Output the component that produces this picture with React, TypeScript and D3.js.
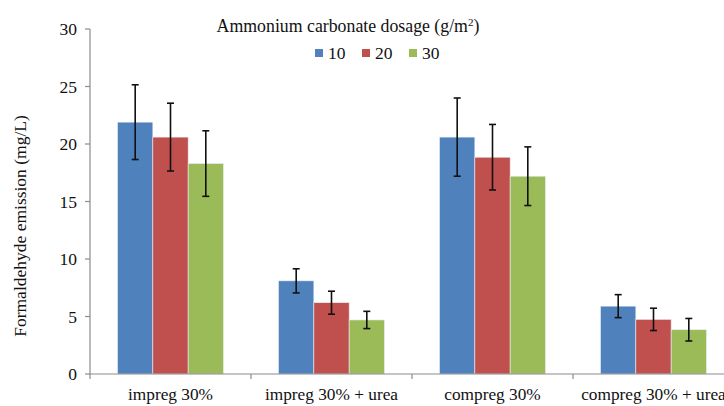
import React from 'react';
import * as d3 from 'd3';

// chart values
const categories = ['impreg 30%', 'impreg 30% + urea', 'compreg 30%', 'compreg 30% + urea'];
const seriesNames = ['10', '20', '30'];
const values10 = [21.9, 8.1, 20.6, 5.9];
const values20 = [20.6, 6.2, 18.85, 4.75];
const values30 = [18.3, 4.7, 17.2, 3.85];
const err10 = [3.25, 1.05, 3.4, 1.0];
const err20 = [2.95, 1.0, 2.85, 0.97];
const err30 = [2.85, 0.75, 2.55, 0.98];
const yTicks = [0, 5, 10, 15, 20, 25, 30];

const colors = ['#4F81BD', '#C0504D', '#9BBB59'];
const font = "'Liberation Serif', 'Times New Roman', serif";

export default () => {
    const width = 724;
    const height = 406;
    const margin = { top: 29, left: 90, bottom: 374 };

    const series = [values10, values20, values30];
    const errors = [err10, err20, err30];

    const x = d3.scaleBand<string>()
        .domain(categories)
        .range([margin.left, margin.left + 161 * categories.length])
        .paddingInner(0)
        .paddingOuter(0);

    const xs = d3.scaleBand<string>()
        .domain(seriesNames)
        .range([0, x.bandwidth()])
        .paddingInner(0)
        .paddingOuter(0.78);

    const y = d3.scaleLinear().domain([0, 30]).range([margin.bottom, margin.top]);

    const axisColor = '#8c8c8c';
    const capW = 3.5;
    const txt = { fontFamily: font, fill: '#111' };

    return (
        <svg width={width} height={height}
            style={{ position: 'absolute', left: 0, top: 0, background: '#fff' }}>
            {/* bars */}
            {categories.map((c, ci) => (
                <g key={c}>
                    {series.map((vals, si) => (
                        <rect key={si}
                            x={x(c)! + xs(seriesNames[si])!}
                            y={y(vals[ci])}
                            width={xs.bandwidth()}
                            height={y(0) - y(vals[ci])}
                            fill={colors[si]}
                            stroke="#e8eef6"
                            strokeWidth={0.6} />
                    ))}
                </g>
            ))}

            {/* error bars */}
            {categories.map((c, ci) => (
                <g key={c + '-err'} stroke="#111" strokeWidth={1.6}>
                    {series.map((vals, si) => {
                        const cx = x(c)! + xs(seriesNames[si])! + xs.bandwidth() / 2;
                        const hi = y(vals[ci] + errors[si][ci]);
                        const lo = y(vals[ci] - errors[si][ci]);
                        return (
                            <g key={si}>
                                <line x1={cx} x2={cx} y1={hi} y2={lo} />
                                <line x1={cx - capW} x2={cx + capW} y1={hi} y2={hi} />
                                <line x1={cx - capW} x2={cx + capW} y1={lo} y2={lo} />
                            </g>
                        );
                    })}
                </g>
            ))}

            {/* y axis */}
            <line x1={margin.left} x2={margin.left} y1={y(30)} y2={y(0)} stroke={axisColor} strokeWidth={1.2} />
            {yTicks.map(t => (
                <g key={t}>
                    <line x1={margin.left - 5} x2={margin.left} y1={y(t)} y2={y(t)} stroke={axisColor} strokeWidth={1.2} />
                    <text x={77} y={y(t)} dy="0.35em" textAnchor="end" fontSize={17.5} style={txt}>{t}</text>
                </g>
            ))}

            {/* x axis */}
            <line x1={margin.left} x2={width} y1={y(0)} y2={y(0)} stroke={axisColor} strokeWidth={1.2} />
            {categories.map(c => (
                <g key={c + '-tick'}>
                    <line x1={x(c)!} x2={x(c)!} y1={y(0)} y2={y(0) + 5} stroke={axisColor} strokeWidth={1.2} />
                    <text x={x(c)! + x.bandwidth() / 2} y={400} textAnchor="middle" fontSize={17.3} style={txt}>{c}</text>
                </g>
            ))}

            {/* y axis title */}
            <text transform="translate(26,226) rotate(-90)" textAnchor="middle" fontSize={17.5} style={txt}>
                Formaldehyde emission (mg/L)
            </text>

            {/* legend */}
            <text x={348} y={32} textAnchor="middle" fontSize={17.8} style={txt}>
                Ammonium carbonate dosage (g/m<tspan dy={-6} fontSize={11}>2</tspan><tspan dy={6}>)</tspan>
            </text>
            {seriesNames.map((s, i) => {
                const lx = [315, 362, 409][i];
                return (
                    <g key={s}>
                        <rect x={lx} y={49} width={8} height={8} fill={colors[i]} />
                        <text x={lx + 13} y={59} fontSize={17.5} style={txt}>{s}</text>
                    </g>
                );
            })}
        </svg>
    );
};
